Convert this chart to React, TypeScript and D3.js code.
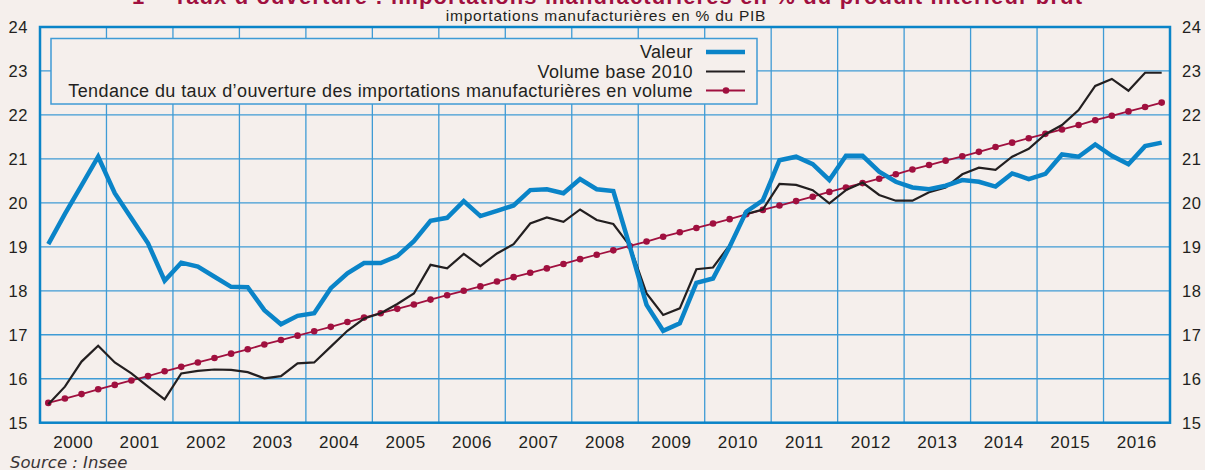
import { useEffect, useRef } from 'react';
import * as d3 from 'd3';

const years = ['2000', '2001', '2002', '2003', '2004', '2005', '2006', '2007', '2008',
  '2009', '2010', '2011', '2012', '2013', '2014', '2015', '2016'];

// quarterly values, 2000 Q1 -> 2016 Q4
const valeur = [
  19.06, 19.75, 20.40, 21.05,
  20.22, 19.65, 19.08, 18.23,
  18.64, 18.55, 18.32, 18.09,
  18.08, 17.56, 17.24, 17.43,
  17.49, 18.06, 18.40, 18.63,
  18.63, 18.79, 19.13, 19.59,
  19.66, 20.04, 19.70, 19.82,
  19.94, 20.29, 20.31, 20.22,
  20.54, 20.31, 20.27, 19.00,
  17.68, 17.09, 17.26, 18.18,
  18.28, 19.00, 19.80, 20.06,
  20.97, 21.05, 20.88, 20.52,
  21.07, 21.07, 20.71, 20.48,
  20.35, 20.31, 20.39, 20.52,
  20.48, 20.37, 20.67, 20.54,
  20.66, 21.10, 21.05, 21.33,
  21.07, 20.88, 21.29, 21.37,
];

const volume = [
  15.42, 15.82, 16.39, 16.75,
  16.37, 16.12, 15.82, 15.53,
  16.12, 16.18, 16.21, 16.20,
  16.15, 16.01, 16.06, 16.35,
  16.37, 16.73, 17.09, 17.37,
  17.49, 17.70, 17.94, 18.59,
  18.51, 18.84, 18.56, 18.85,
  19.06, 19.53, 19.67, 19.57,
  19.85, 19.61, 19.52, 19.02,
  17.94, 17.45, 17.60, 18.49,
  18.53, 19.04, 19.75, 19.85,
  20.43, 20.41, 20.29, 19.99,
  20.29, 20.46, 20.18, 20.05,
  20.05, 20.24, 20.35, 20.65,
  20.80, 20.75, 21.05, 21.23,
  21.56, 21.77, 22.11, 22.66,
  22.82, 22.55, 22.96, 22.96,
];

const tendance = [
  15.45, 15.55, 15.65, 15.76,
  15.86, 15.96, 16.06, 16.17,
  16.27, 16.37, 16.47, 16.57,
  16.67, 16.78, 16.88, 16.98,
  17.08, 17.18, 17.29, 17.39,
  17.49, 17.59, 17.69, 17.80,
  17.90, 18.00, 18.10, 18.21,
  18.31, 18.41, 18.51, 18.61,
  18.72, 18.82, 18.92, 19.02,
  19.12, 19.23, 19.33, 19.43,
  19.53, 19.63, 19.74, 19.84,
  19.94, 20.04, 20.14, 20.25,
  20.35, 20.45, 20.55, 20.65,
  20.76, 20.86, 20.96, 21.06,
  21.16, 21.27, 21.37, 21.47,
  21.57, 21.67, 21.77, 21.88,
  21.98, 22.08, 22.18, 22.28,
];

const yTicks = [15, 16, 17, 18, 19, 20, 21, 22, 23, 24];

const legendItems = [
  'Valeur',
  'Volume base 2010',
  'Tendance du taux d\u2019ouverture des importations manufacturières en volume',
];

const BG = '#f5efec';
const BLUE = '#0a84c8';
const GRID = '#3f9bd5';
const RED = '#a0103f';
const BLACK = '#231f20';
const FONT = '"Liberation Sans", Arial, Helvetica, sans-serif';

export default function App() {
  const svgRef = useRef<SVGSVGElement>(null);

  useEffect(() => {
    if (!svgRef.current) return;
    document.body.style.margin = '0';
    const width = 1205;
    const height = 470;
    const margin = { left: 40, right: 35, top: 27, bottom: 47.3 };

    const svg = d3.select(svgRef.current);
    svg.selectAll('*').remove();
    svg.attr('width', width).attr('height', height);

    svg.append('rect').attr('width', width).attr('height', height).attr('fill', BG);

    const nQ = years.length * 4;
    const x = d3.scaleLinear().domain([0, nQ]).range([margin.left, width - margin.right]);
    const y = d3.scaleLinear().domain([15, 24]).range([height - margin.bottom, margin.top]);
    const xq = (i: number) => x(i + 0.5);

    // title (cut off at the top of the picture, as in the source) and subtitle
    svg.append('text')
      .attr('x', 132).attr('y', 3.5)
      .attr('textLength', 950).attr('lengthAdjust', 'spacing')
      .attr('font-family', FONT).attr('font-weight', 'bold').attr('font-size', 22)
      .attr('fill', RED)
      .text('1 \u2013 Taux d\u2019ouverture : importations manufacturières en % du produit intérieur brut');

    svg.append('text')
      .attr('x', 606).attr('y', 21)
      .attr('text-anchor', 'middle')
      .attr('font-family', FONT).attr('font-size', 15.5).attr('letter-spacing', 0.75)
      .attr('fill', BLACK)
      .text('importations manufacturières en % du PIB');

    // grid
    const grid = svg.append('g').attr('stroke', GRID).attr('stroke-width', 1.3);
    yTicks.forEach(t => {
      grid.append('line')
        .attr('x1', x(0)).attr('x2', x(nQ))
        .attr('y1', y(t)).attr('y2', y(t));
    });
    d3.range(1, years.length).forEach(k => {
      grid.append('line')
        .attr('x1', x(k * 4)).attr('x2', x(k * 4))
        .attr('y1', y(15)).attr('y2', y(24));
    });

    // frame
    svg.append('rect')
      .attr('x', x(0)).attr('y', y(24))
      .attr('width', x(nQ) - x(0)).attr('height', y(15) - y(24))
      .attr('fill', 'none').attr('stroke', BLUE).attr('stroke-width', 2.5);

    // y labels on both sides
    yTicks.forEach(t => {
      svg.append('text')
        .attr('x', 28).attr('y', y(t)).attr('dy', '0.36em')
        .attr('text-anchor', 'end')
        .attr('font-family', FONT).attr('font-size', 16.5).attr('letter-spacing', 0.6)
        .attr('fill', BLACK).text(t);
      svg.append('text')
        .attr('x', 1182).attr('y', y(t)).attr('dy', '0.36em')
        .attr('text-anchor', 'start')
        .attr('font-family', FONT).attr('font-size', 16.5).attr('letter-spacing', 0.6)
        .attr('fill', BLACK).text(t);
    });

    // year labels
    years.forEach((yr, k) => {
      svg.append('text')
        .attr('x', x(k * 4 + 2)).attr('y', 448)
        .attr('text-anchor', 'middle')
        .attr('font-family', FONT).attr('font-size', 17).attr('letter-spacing', 0.6)
        .attr('fill', BLACK).text(yr);
    });

    // legend
    const lg = svg.append('g');
    lg.append('rect')
      .attr('x', 51).attr('y', 38.5).attr('width', 706).attr('height', 65.5)
      .attr('fill', BG).attr('stroke', GRID).attr('stroke-width', 1.5);
    const rowY = [52, 71.5, 90.5];
    legendItems.forEach((label, i) => {
      lg.append('text')
        .attr('x', 693).attr('y', rowY[i]).attr('dy', '0.36em')
        .attr('text-anchor', 'end')
        .attr('font-family', FONT).attr('font-size', 18).attr('letter-spacing', 0.4)
        .attr('fill', BLACK).text(label);
    });
    lg.append('line').attr('x1', 706).attr('x2', 745).attr('y1', rowY[0]).attr('y2', rowY[0])
      .attr('stroke', BLUE).attr('stroke-width', 4.5);
    lg.append('line').attr('x1', 706).attr('x2', 745).attr('y1', rowY[1]).attr('y2', rowY[1])
      .attr('stroke', BLACK).attr('stroke-width', 2.2);
    lg.append('line').attr('x1', 706).attr('x2', 745).attr('y1', rowY[2]).attr('y2', rowY[2])
      .attr('stroke', RED).attr('stroke-width', 1.8);
    lg.append('circle').attr('cx', 726).attr('cy', rowY[2]).attr('r', 3.3).attr('fill', RED);

    // series
    const line = d3.line<number>()
      .x((_, i) => xq(i))
      .y(d => y(d));

    svg.append('path')
      .attr('d', line(tendance))
      .attr('fill', 'none').attr('stroke', RED).attr('stroke-width', 1.8);
    svg.append('g').selectAll('circle')
      .data(tendance)
      .enter().append('circle')
      .attr('cx', (_, i) => xq(i))
      .attr('cy', d => y(d))
      .attr('r', 3.3)
      .attr('fill', RED);

    svg.append('path')
      .attr('d', line(volume))
      .attr('fill', 'none').attr('stroke', BLACK).attr('stroke-width', 2.2)
      .attr('stroke-linejoin', 'miter');

    svg.append('path')
      .attr('d', line(valeur))
      .attr('fill', 'none').attr('stroke', BLUE).attr('stroke-width', 4.5)
      .attr('stroke-linejoin', 'miter');

    // source
    svg.append('text')
      .attr('x', 10).attr('y', 467.5)
      .attr('font-family', '"DejaVu Sans", sans-serif').attr('font-style', 'italic')
      .attr('font-weight', 300).attr('font-size', 16.5)
      .attr('fill', '#3a3536').text('Source : Insee');
  }, []);

  return (
    <div style={{ position: 'absolute', left: 0, top: 0 }}>
      <svg ref={svgRef} style={{ display: 'block' }} />
    </div>
  );
}
